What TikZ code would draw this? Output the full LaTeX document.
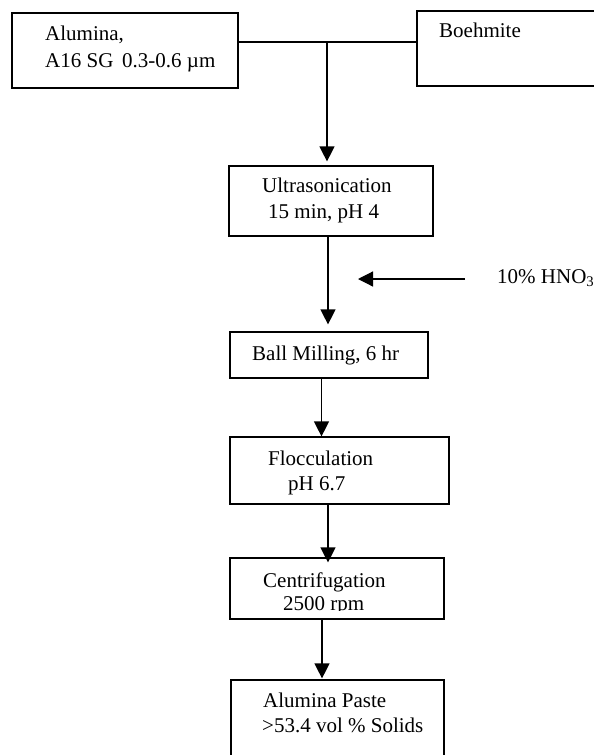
\documentclass[tikz,border=0pt]{standalone}
\usepackage{fontspec}
\setmainfont{Liberation Serif}
\usetikzlibrary{arrows.meta}
\tikzset{
  boxnode/.style={draw=black, line width=1.2pt, rectangle, inner sep=0pt},
  txt/.style={anchor=base west, inner sep=0pt, font=\fontsize{21}{25}\selectfont},
  arr/.style={draw=black, line width=1.2pt, -{Triangle[length=15pt,width=15pt]}},
  ln/.style={draw=black, line width=1.2pt}
}
\begin{document}
\begin{tikzpicture}[x=1pt,y=-1pt]
\useasboundingbox (0,0) rectangle (594,755);
% boxes
\node[boxnode, minimum width=226pt, minimum height=75pt] (alum) at (125,50.5) {};
\node[boxnode, minimum width=203pt, minimum height=75pt] (boeh) at (518.5,48.5) {};
\node[boxnode, minimum width=204pt, minimum height=70pt] (ultra) at (331,201) {};
\node[boxnode, minimum width=198pt, minimum height=46pt] (ball) at (329,355) {};
\node[boxnode, minimum width=219pt, minimum height=67pt] (floc) at (339.5,470.5) {};
\node[boxnode, minimum width=214pt, minimum height=61pt] (cent) at (337,588.5) {};
\node[boxnode, minimum width=213pt, minimum height=120pt] (paste) at (337.5,740) {};
% texts
\node[txt] (t1) at (45,40) {Alumina,};
\node[txt] (t2) at (45,67) {A16 SG\, 0.3-0.6 µm};
\node[txt] (t3) at (439,37) {Boehmite};
\node[txt] (t4) at (262,192) {Ultrasonication};
\node[txt] (t5) at (268,218) {15 min, pH 4};
\node[txt] (hno) at (497,283) {10\% HNO\textsubscript{3}};
\node[txt] (t6) at (252,360) {Ball Milling, 6 hr};
\node[txt] (t7) at (268,465) {Flocculation};
\node[txt] (t8) at (288,490) {pH 6.7};
\node[txt] (t9) at (263,587) {Centrifugation};
\begin{scope}
  \clip (230,590) rectangle (444,610.5);
  \node[txt] (t10) at (283,610.5) {2500 rpm};
\end{scope}
\node[txt] (t11) at (263,707) {Alumina Paste};
\node[txt] (t12) at (262,732) {>53.4 vol \% Solids};
% connectors
\coordinate (j) at (327,42);
\draw[ln] (alum.east |- j) -- (boeh.west |- j);
\draw[arr, shorten >=4pt] (j) -- (j |- ultra.north);
\coordinate (u) at (328,0);
\draw[arr, shorten >=7pt] (u |- ultra.south) -- (u |- ball.north);
\coordinate (hs) at (465,279);
\coordinate (he) at (358,279);
\draw[arr] (hs) -- (he);
\coordinate (b) at (321.5,0);
\draw[arr] (b |- ball.south) -- (b |- floc.north);
\coordinate (f) at (328,0);
\draw[arr, shorten >=-5pt] (f |- floc.south) -- (f |- cent.north);
\coordinate (c) at (322,0);
\draw[arr, shorten >=1pt] (c |- cent.south) -- (c |- paste.north);
\end{tikzpicture}
\end{document}
